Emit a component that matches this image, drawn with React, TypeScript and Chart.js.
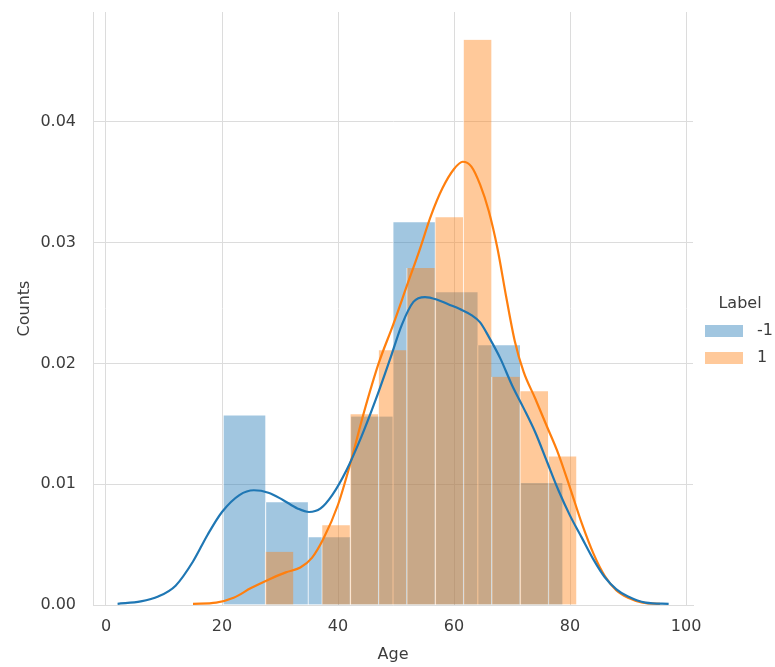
import React, { useEffect, useRef } from "react";
import { Chart, registerables } from "chart.js";

Chart.register(...registerables);

// ---------- data ----------
const xLabel = "Age";
const yLabel = "Counts";
const legendTitle = "Label";
const seriesNames = ["-1", "1"];

const xTicks = [0, 20, 40, 60, 80, 100];
const yTicks = [0, 0.01, 0.02, 0.03, 0.04];
const xMin = -2.24;
const xMax = 101.2;
const yMin = 0;
const yMax = 0.0491;

// histogram (density) for label -1
const blueBinCenters = [23.83, 31.15, 38.47, 45.78, 53.09, 60.41, 67.72, 75.04];
const blueDensity = [0.0157, 0.0085, 0.0056, 0.0156, 0.0317, 0.0259, 0.0215, 0.0101];

// histogram (density) for label 1
const orangeBinCenters = [29.85, 34.73, 39.61, 44.49, 49.37, 54.25, 59.13, 64.01, 68.89, 73.77, 78.65];
const orangeDensity = [0.0044, 0, 0.0066, 0.0158, 0.0211, 0.0279, 0.0321, 0.0468, 0.0189, 0.0177, 0.0123];

// KDE curves
const blueKdeX = [2, 6, 9, 12, 15, 17.5, 20, 23, 25.5, 28, 30.5, 33, 35, 37, 39, 41.5, 44, 46.5, 49, 51, 53, 55, 57, 59, 61, 63, 64.5, 66, 68, 70, 72, 74, 76, 78, 80, 82, 84, 86, 88, 90, 93, 97];
const blueKdeY = [0.0001, 0.0003, 0.0007, 0.0016, 0.0036, 0.0058, 0.0077, 0.0091, 0.0095, 0.0093, 0.0087, 0.008, 0.0077, 0.008, 0.0091, 0.0112, 0.0139, 0.017, 0.0204, 0.0232, 0.0251, 0.0255, 0.0253, 0.0249, 0.0245, 0.024, 0.0234, 0.0222, 0.0204, 0.0182, 0.0163, 0.0143, 0.0119, 0.0095, 0.0074, 0.0056, 0.0038, 0.0023, 0.0013, 0.0007, 0.0002, 0.0001];

const orangeKdeX = [15, 19, 22, 25, 28, 31, 33.5, 35.5, 37.5, 40, 42, 44.5, 47, 49.5, 52, 54, 56, 58, 60, 61.5, 63, 64.5, 66, 67.5, 69, 70.5, 72, 74, 76, 78, 80, 82, 84, 86, 88, 90, 92.5, 95.5];
const orangeKdeY = [0.0001, 0.0002, 0.0006, 0.0014, 0.0021, 0.0027, 0.0031, 0.0039, 0.0055, 0.0083, 0.0115, 0.016, 0.02, 0.0232, 0.0266, 0.0293, 0.0322, 0.0345, 0.0361, 0.0367, 0.0363, 0.0348, 0.0326, 0.0295, 0.0255, 0.0218, 0.0193, 0.0171, 0.0148, 0.0125, 0.0097, 0.0068, 0.0043, 0.0024, 0.0012, 0.0006, 0.0002, 0.0001];

// ---------- styles ----------
const FONT = '"DejaVu Sans", "Liberation Sans", Arial, sans-serif';
const TEXT = "#3c3c3c";
const GRID = "#dcdcdc";
const BLUE = "rgb(31,119,180)";
const ORANGE = "rgb(255,127,14)";
const BLUE_FILL = "rgba(31,119,180,0.42)";
const ORANGE_FILL = "rgba(255,127,14,0.42)";
const EDGE = "rgba(255,255,255,0.55)";

const legendPlugin = {
  id: "hueLegend",
  afterDraw(chart: any) {
    const { ctx, chartArea } = chart;
    const x0 = chartArea.right + 12;
    ctx.save();
    ctx.font = `16px ${FONT}`;
    ctx.fillStyle = TEXT;
    ctx.textBaseline = "middle";
    ctx.textAlign = "center";
    ctx.fillText(legendTitle, x0 + 35, 304);
    const fills = [BLUE_FILL, ORANGE_FILL];
    seriesNames.forEach((name, i) => {
      const cy = 331 + i * 27;
      ctx.fillStyle = fills[i];
      ctx.fillRect(x0, cy - 6, 38, 12);
      ctx.fillStyle = TEXT;
      ctx.textAlign = "left";
      ctx.fillText(name, x0 + 52, cy);
    });
    ctx.restore();
  },
};

export default function App() {
  const ref = useRef<HTMLCanvasElement | null>(null);

  useEffect(() => {
    document.body.style.margin = "0";
    const canvas = ref.current;
    if (!canvas) return;

    const xAxisCommon = {
      type: "linear" as const,
      min: xMin,
      max: xMax,
      offset: false,
      afterBuildTicks: (scale: any) => {
        scale.ticks = xTicks.map((v) => ({ value: v }));
      },
    };

    const barCommon = {
      type: "bar",
      borderColor: EDGE,
      borderWidth: { left: 1, right: 0, top: 0, bottom: 0 },
      borderSkipped: false,
      categoryPercentage: 1,
      barPercentage: 1,
      grouped: false,
    };

    const chart = new Chart(canvas, {
      type: "bar",
      data: {
        datasets: [
          {
            type: "line",
            label: seriesNames[0] + " kde",
            data: blueKdeX.map((x, i) => ({ x, y: blueKdeY[i] })),
            borderColor: BLUE,
            borderWidth: 2.2,
            pointRadius: 0,
            cubicInterpolationMode: "monotone",
            fill: false,
            xAxisID: "x",
            order: 0,
          } as any,
          {
            type: "line",
            label: seriesNames[1] + " kde",
            data: orangeKdeX.map((x, i) => ({ x, y: orangeKdeY[i] })),
            borderColor: ORANGE,
            borderWidth: 2.2,
            pointRadius: 0,
            cubicInterpolationMode: "monotone",
            fill: false,
            xAxisID: "x",
            order: 1,
          } as any,
          {
            ...barCommon,
            label: seriesNames[1],
            data: orangeBinCenters.map((x, i) => ({ x, y: orangeDensity[i] })),
            backgroundColor: ORANGE_FILL,
            xAxisID: "x2",
            order: 2,
          } as any,
          {
            ...barCommon,
            label: seriesNames[0],
            data: blueBinCenters.map((x, i) => ({ x, y: blueDensity[i] })),
            backgroundColor: BLUE_FILL,
            xAxisID: "x",
            order: 3,
          } as any,
        ],
      },
      options: {
        animation: false,
        responsive: false,
        events: [],
        layout: { padding: { top: 12, right: 82, left: 0, bottom: 0 } },
        plugins: {
          legend: { display: false },
          tooltip: { enabled: false },
          title: { display: false },
        },
        scales: {
          x: {
            ...xAxisCommon,
            position: "bottom",
            afterFit: (scale: any) => {
              scale.height = 62;
              scale.paddingLeft = 0;
              scale.paddingRight = 0;
            },
            grid: { color: GRID, lineWidth: 1, drawTicks: false, offset: false },
            border: { display: true, color: GRID, width: 1 },
            ticks: {
              color: TEXT,
              font: { family: FONT, size: 16 },
              padding: 12,
              maxRotation: 0,
              callback: (v: any) => String(v),
            },
            title: {
              display: true,
              text: xLabel,
              color: TEXT,
              font: { family: FONT, size: 16 },
              padding: { top: 0, bottom: 3 },
            },
          },
          x2: {
            ...xAxisCommon,
            position: "bottom",
            display: false,
            grid: { display: false, offset: false },
            afterFit: (scale: any) => {
              scale.paddingLeft = 0;
              scale.paddingRight = 0;
            },
          },
          y: {
            type: "linear",
            min: yMin,
            max: yMax,
            position: "left",
            afterFit: (scale: any) => {
              scale.width = 93;
              scale.paddingTop = 0;
              scale.paddingBottom = 0;
            },
            afterBuildTicks: (scale: any) => {
              scale.ticks = yTicks.map((v) => ({ value: v }));
            },
            grid: { color: GRID, lineWidth: 1, drawTicks: false },
            border: { display: true, color: GRID, width: 1 },
            ticks: {
              color: TEXT,
              font: { family: FONT, size: 16 },
              padding: 17,
              callback: (v: any) => Number(v).toFixed(2),
            },
            title: {
              display: true,
              text: yLabel,
              color: TEXT,
              font: { family: FONT, size: 16 },
              padding: { top: 15, bottom: 0 },
            },
          },
        },
      } as any,
      plugins: [legendPlugin],
    });

    return () => chart.destroy();
  }, []);

  return (
    <div style={{ width: 775, height: 667, background: "#fff" }}>
      <canvas ref={ref} width={775} height={667} style={{ display: "block", width: 775, height: 667 }} />
    </div>
  );
}
